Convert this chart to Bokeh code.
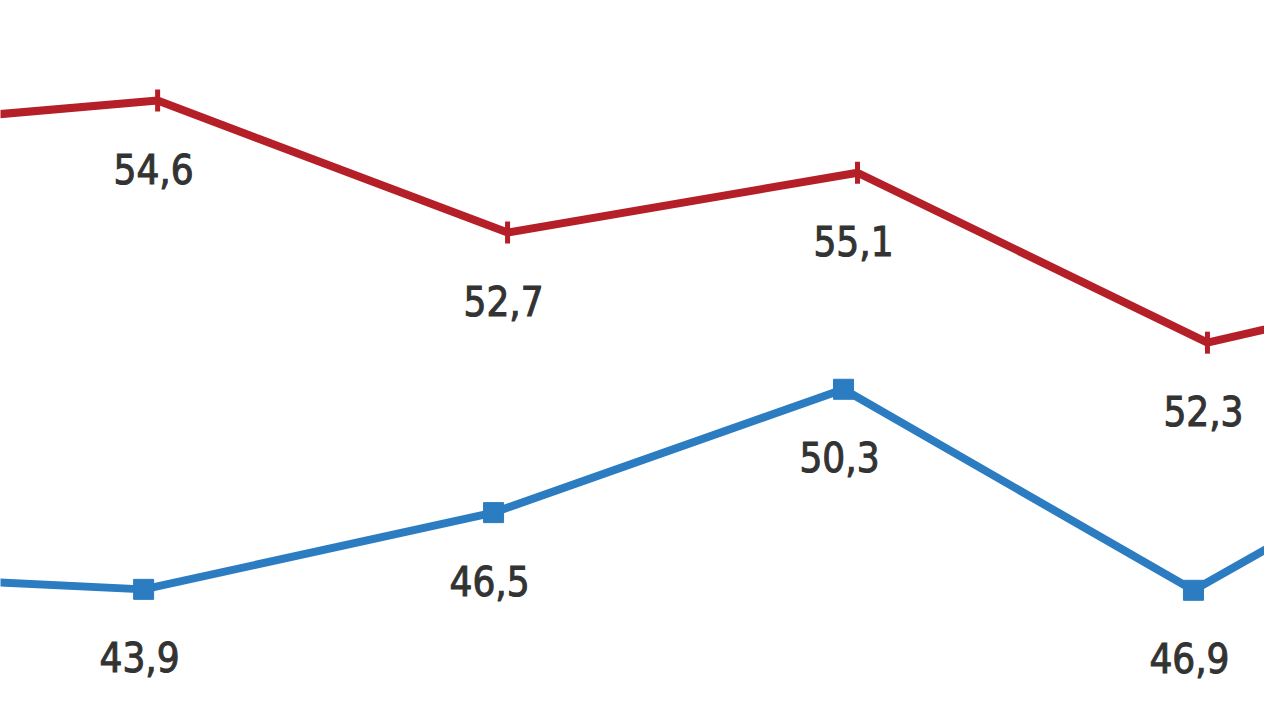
from bokeh.plotting import figure
from bokeh.models import ColumnDataSource, Range1d
from bokeh.transform import dodge
from bokeh.core.properties import value
from bokeh.embed import file_html
from bokeh.resources import INLINE
import math

# Period index (0 and 5 are the neighbours cut off at the picture's edges)
periods = [0, 1, 2, 3, 4, 5]

# Levels as drawn in the picture (the source chart is not drawn to scale)
red_drawn = [53.94, 54.6, 51.71, 53.02, 49.30, 51.08]
blue_drawn = [44.27, 43.9, 45.58, 48.28, 43.88, 48.21]

# Printed data labels
red_labels = ["", "54,6", "52,7", "55,1", "52,3", ""]
blue_labels = ["", "43,9", "46,5", "50,3", "46,9", ""]

RED = "#b51f27"
BLUE = "#2b7cc0"
TEXT = "#333333"

src_red = ColumnDataSource(dict(x=periods, y=red_drawn, lab=red_labels))
src_blue = ColumnDataSource(dict(x=periods, y=blue_drawn, lab=blue_labels))

p = figure(width=1264, height=704, output_backend="svg", toolbar_location=None,
           x_range=Range1d(0.551, 4.163), y_range=Range1d(41.38, 56.79),
           min_border=0, background_fill_color="white", border_fill_color="white")
p.xaxis.visible = False
p.yaxis.visible = False
p.grid.visible = False
p.outline_line_color = None

p.line("x", "y", source=src_red, line_color=RED, line_width=8, line_join="round")
p.scatter("x", "y", source=src_red, marker="dash", angle=math.pi / 2, size=22,
          line_color=RED, line_width=5)

bx = dodge("x", -0.04, range=p.x_range)
p.line(bx, "y", source=src_blue, line_color=BLUE, line_width=8, line_join="round")
p.scatter(bx, "y", source=src_blue, marker="square", size=20,
          fill_color=BLUE, line_color=BLUE)

font = value("'DejaVu Sans Condensed', 'Liberation Sans Narrow', 'Roboto Condensed', sans-serif")
for src, xs in ((src_red, "x"), (src_blue, bx)):
    p.text(xs, "y", text="lab", source=src, text_font=font, text_font_size="40px",
           text_font_style="normal", text_color=TEXT, text_outline_color=TEXT,
           text_align="center", text_baseline="middle", y_offset=68, x_offset=-4)

open("out.html", "w").write(file_html(p, INLINE))
